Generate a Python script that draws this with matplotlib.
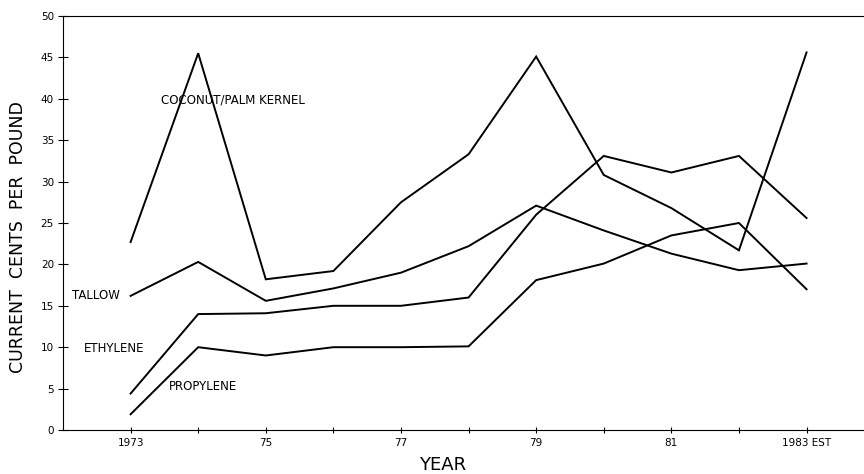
import numpy as np
import matplotlib.pyplot as plt

years = [1973, 1974, 1975, 1976, 1977, 1978, 1979, 1980, 1981, 1982, 1983]
coconut = [22.7, 45.5, 18.2, 19.2, 27.5, 33.3, 45.1, 30.8, 26.8, 21.7, 45.6]
tallow = [16.2, 20.3, 15.6, 17.1, 19.0, 22.2, 27.1, 24.1, 21.3, 19.3, 20.1]
ethylene = [4.4, 14.0, 14.1, 15.0, 15.0, 16.0, 26.0, 33.1, 31.1, 33.1, 25.6]
propylene = [1.9, 10.0, 9.0, 10.0, 10.0, 10.1, 18.1, 20.1, 23.5, 25.0, 17.0]

xtick_pos = [1973, 1975, 1977, 1979, 1981, 1983]
xtick_labels = ["1973", "75", "77", "79", "81", "1983 EST"]

plt.rcParams['font.family'] = ['DejaVu Sans']

fig = plt.figure(figsize=(8.64, 4.74), dpi=100)
ax = fig.add_axes([63/864, 1 - 430/474, (864 - 63)/864, (430 - 16)/474])

for series in [coconut, tallow, ethylene, propylene]:
    ax.plot(years, series, color='black', lw=1.4, solid_joinstyle='miter')

ax.set_xlim(1972, 1983.85)
ax.set_ylim(0, 50)
ax.set_yticks(np.arange(0, 51, 5))
ax.set_xticks(years, minor=True)
ax.set_xticks(xtick_pos)
ax.set_xticklabels(xtick_labels, fontsize=7.5)
ax.tick_params(axis='y', labelsize=7.5, direction='inout', length=7, width=0.8, pad=3)
ax.tick_params(axis='x', which='both', direction='inout', length=5, width=0.8)
ax.spines['right'].set_visible(False)
for s in ['left', 'top', 'bottom']:
    ax.spines[s].set_linewidth(0.8)

ax.text(1973.45, 39.9, "COCONUT/PALM KERNEL", fontsize=8.5, va='center', ha='left')
ax.text(1972.13, 16.2, "TALLOW", fontsize=8.5, va='center', ha='left')
ax.text(1972.31, 9.9, "ETHYLENE", fontsize=8.5, va='center', ha='left')
ax.text(1973.57, 5.2, "PROPYLENE", fontsize=8.5, va='center', ha='left')

fig.text(443/864, 1 - 465/474, "YEAR", fontsize=13, ha='center', va='center')
fig.text(18/864, 1 - 237/474, "CURRENT  CENTS  PER  POUND", fontsize=12.5,
         rotation=90, ha='center', va='center')

fig.savefig("out.png", dpi=100)
